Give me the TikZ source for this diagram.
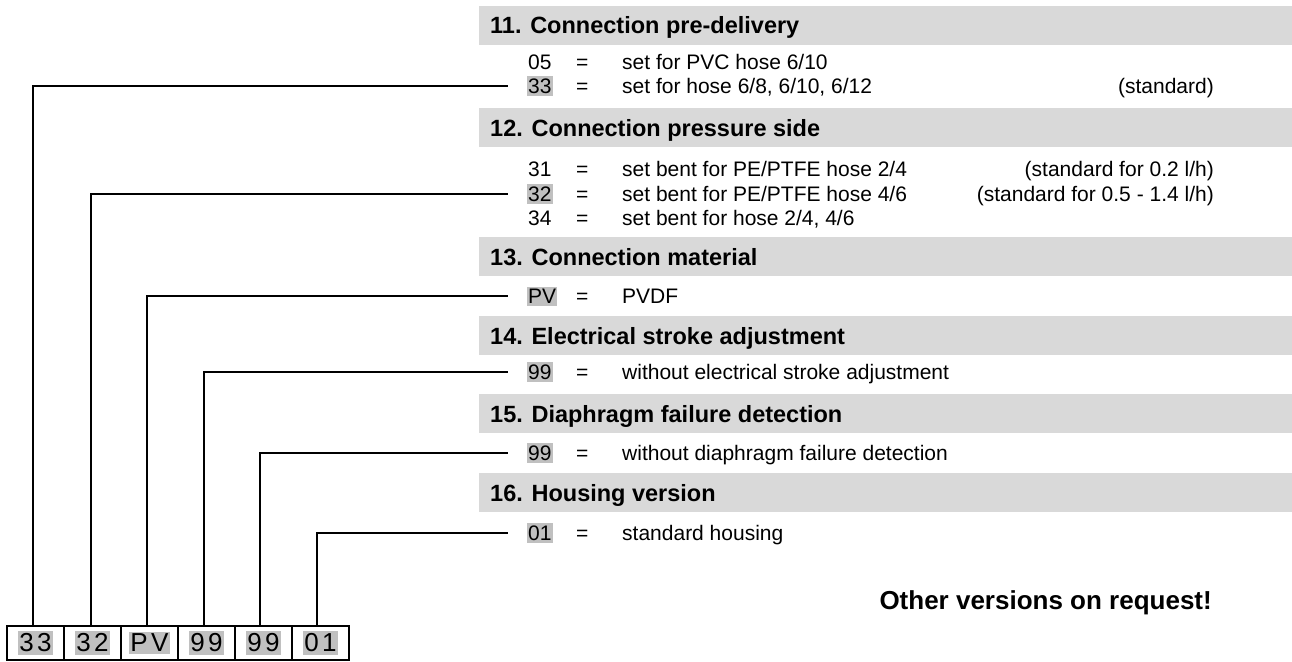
\documentclass[tikz,border=0pt]{standalone}
\usepackage{fontspec}
\setmainfont{Liberation Sans}
\definecolor{barGray}{HTML}{D9D9D9}
\definecolor{hlGray}{HTML}{C0C0C0}
\tikzset{
  bar/.style={fill=barGray, draw=none},
  head/.style={anchor=base west, inner sep=0pt, font=\bfseries\fontsize{23.5}{28}\selectfont},
  body/.style={anchor=base west, inner sep=0pt, font=\fontsize{21}{25}\selectfont},
  rbody/.style={anchor=base east, inner sep=0pt, font=\fontsize{21}{25}\selectfont},
  code/.style={anchor=base west, inner xsep=1pt, inner ysep=2.5pt, font=\fontsize{21}{25}\selectfont},
  hl/.style={code, fill=hlGray},
  cell/.style={draw, line width=2pt, minimum width=57pt, minimum height=34pt, inner sep=0pt},
  celltext/.style={fill=hlGray, inner xsep=1.5pt, inner ysep=2.5pt, font=\fontsize{26}{30}\selectfont},
  conn/.style={line width=2pt},
}
\begin{document}
\begin{tikzpicture}[x=1pt, y=-1pt]
\useasboundingbox (0,0) rectangle (1292,661);
% header bars
\fill[bar] (479,6) rectangle (1292,45);
\fill[bar] (479,108) rectangle (1292,147);
\fill[bar] (479,237) rectangle (1292,276);
\fill[bar] (479,316) rectangle (1292,355);
\fill[bar] (479,394) rectangle (1292,433);
\fill[bar] (479,473) rectangle (1292,512);
% headers
\node[head] (h11) at (490,34) {11. Connection pre-delivery};
\node[head] (h12) at (490,136) {12. Connection pressure side};
\node[head] (h13) at (490,265) {13. Connection material};
\node[head] (h14) at (490,344) {14. Electrical stroke adjustment};
\node[head] (h15) at (490,422) {15. Diaphragm failure detection};
\node[head] (h16) at (490,501) {16. Housing version};
% section 11
\node[code] (k05) at (527,69.5) {05};
\node[body] (q05) at (576,69.5) {=};
\node[body] (d05) at (622,69.5) {set for PVC hose 6/10};
\node[hl] (c1) at (527,93.5) {33};
\node[body] (q33) at (576,93.5) {=};
\node[body] (d33) at (622,93.5) {set for hose 6/8, 6/10, 6/12};
\node[rbody] (s33) at (1214,93.5) {(standard)};
% section 12
\node[code] (k31) at (527,176.5) {31};
\node[body] (q31) at (576,176.5) {=};
\node[body] (d31) at (622,176.5) {set bent for PE/PTFE hose 2/4};
\node[rbody] (s31) at (1214,176.5) {(standard for 0.2 l/h)};
\node[hl] (c2) at (527,201.5) {32};
\node[body] (q32) at (576,201.5) {=};
\node[body] (d32) at (622,201.5) {set bent for PE/PTFE hose 4/6};
\node[rbody] (s32) at (1214,201.5) {(standard for 0.5 - 1.4 l/h)};
\node[code] (k34) at (527,225.5) {34};
\node[body] (q34) at (576,225.5) {=};
\node[body] (d34) at (622,225.5) {set bent for hose 2/4, 4/6};
% section 13
\node[hl] (c3) at (527,303.5) {PV};
\node[body] (q3) at (576,303.5) {=};
\node[body] (d3) at (622,303.5) {PVDF};
% section 14
\node[hl] (c4) at (527,379.5) {99};
\node[body] (q4) at (576,379.5) {=};
\node[body] (d4) at (622,379.5) {without electrical stroke adjustment};
% section 15
\node[hl] (c5) at (527,460.5) {99};
\node[body] (q5) at (576,460.5) {=};
\node[body] (d5) at (622,460.5) {without diaphragm failure detection};
% section 16
\node[hl] (c6) at (527,540.5) {01};
\node[body] (q6) at (576,540.5) {=};
\node[body] (d6) at (622,540.5) {standard housing};
% note
\node[anchor=base east, inner sep=0pt, font=\bfseries\fontsize{26}{30}\selectfont] (note) at (1212,609) {Other versions on request!};
% bottom cells
\node[cell] (b1) at (35.5,643) {};
\node[cell] (b2) at (92.5,643) {};
\node[cell] (b3) at (149.5,643) {};
\node[cell] (b4) at (206.5,643) {};
\node[cell] (b5) at (263.5,643) {};
\node[cell] (b6) at (320.5,643) {};
\node[celltext] (t1) at (b1) {3\kern3.5pt 3};
\node[celltext] (t2) at (b2) {3\kern3.5pt 2};
\node[celltext] (t3) at (b3) {P\kern3.5pt V};
\node[celltext] (t4) at (b4) {9\kern3.5pt 9};
\node[celltext] (t5) at (b5) {9\kern3.5pt 9};
\node[celltext] (t6) at (b6) {0\kern3.5pt 1};
% connector ends
\coordinate (e1) at (508,86);
\coordinate (e2) at (508,194);
\coordinate (e3) at (508,296);
\coordinate (e4) at (508,372);
\coordinate (e5) at (508,453);
\coordinate (e6) at (508,533);
\draw[conn] ([xshift=-2.5pt]b1.north) |- (e1);
\draw[conn] ([xshift=-1.5pt]b2.north) |- (e2);
\draw[conn] ([xshift=-2.5pt]b3.north) |- (e3);
\draw[conn] ([xshift=-2.5pt]b4.north) |- (e4);
\draw[conn] ([xshift=-3.5pt]b5.north) |- (e5);
\draw[conn] ([xshift=-3.5pt]b6.north) |- (e6);
\end{tikzpicture}
\end{document}
